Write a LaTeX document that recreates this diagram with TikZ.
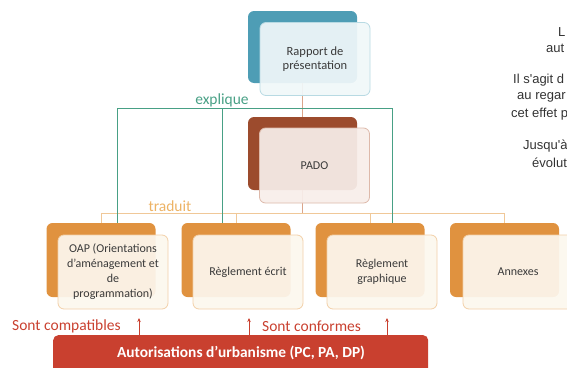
\documentclass[tikz,border=0pt]{standalone}
\usepackage{fontspec}
\setmainfont{Carlito}
\newfontfamily\arialfont{Liberation Sans}
\usetikzlibrary{arrows.meta}
\definecolor{tealback}{HTML}{4E9DB5}
\definecolor{tealfront}{HTML}{F0F7F9}
\definecolor{tealedge}{HTML}{B8DAE3}
\definecolor{brownback}{HTML}{9C4B2D}
\definecolor{brownfront}{HTML}{F7EEEA}
\definecolor{brownedge}{HTML}{DDB9AA}
\definecolor{orangeback}{HTML}{E0923F}
\definecolor{orangefront}{HTML}{FCF7EE}
\definecolor{orangeedge}{HTML}{F2D0A8}
\definecolor{greenline}{HTML}{48A085}
\definecolor{orangeline}{HTML}{F0C898}
\definecolor{orangetext}{HTML}{EDB365}
\definecolor{brownline}{HTML}{DBA58A}
\definecolor{redbar}{HTML}{C9402F}
\definecolor{boxtext}{HTML}{3A3A3A}
\tikzset{
  backbox/.style={rectangle, rounded corners=6pt, minimum width=109pt, minimum height=73pt, inner sep=0pt},
  frontbox/.style={rectangle, rounded corners=6pt, minimum width=110pt, minimum height=73pt, inner sep=2pt,
    fill opacity=0.93, text opacity=1, line width=0.8pt, align=center, text=boxtext, font=\fontsize{12}{15}\selectfont},
  redlabel/.style={text=redbar, font=\fontsize{15.5}{18}\selectfont, inner sep=0pt},
  redarrow/.style={draw=redbar, line width=0.8pt, -{Stealth[length=4pt,width=3.5pt]}},
  sidetext/.style={font=\arialfont\fontsize{13}{15}\selectfont, text=black!80, anchor=west, inner sep=0pt}
}
\begin{document}
\begin{tikzpicture}[x=1pt,y=-1pt]
\useasboundingbox (0,0) rectangle (567,367);
\clip (0,0) rectangle (567,367);
% back boxes
\node[backbox, fill=tealback, minimum height=72pt] (rapb) at (302.5,47) {};
\node[backbox, fill=brownback] (padob) at (302.5,153.5) {};
\node[backbox, fill=orangeback, minimum height=74pt] (oapb) at (101,260) {};
\node[backbox, fill=orangeback, minimum height=74pt] (regb) at (236,260) {};
\node[backbox, fill=orangeback, minimum height=74pt] (grab) at (370,260) {};
\node[backbox, fill=orangeback, minimum height=74pt] (annb) at (504.5,260) {};
% connectors
\coordinate (exL) at (117,108);
\coordinate (exM) at (222,108);
\coordinate (exR) at (392,108);
\coordinate (trL) at (101,213);
\coordinate (trR) at (504.5,213);
\draw[brownline, line width=0.8pt] (rapb.south) -- (padob.north);
\draw[brownline, line width=0.8pt] (padob.south) -- (padob.south |- trL);
\draw[orangeline, line width=0.8pt] (trL) -- (trR);
\draw[orangeline, line width=0.8pt] (trL) -- (oapb.north);
\draw[orangeline, line width=0.8pt] (regb.north |- trL) -- (regb.north);
\draw[orangeline, line width=0.8pt] (grab.north |- trL) -- (grab.north);
\draw[orangeline, line width=0.8pt] (trR) -- (annb.north);
\draw[greenline, line width=0.9pt] (exL |- oapb.north) -- (exL) -- (exR) -- (exR |- grab.north);
\draw[greenline, line width=0.9pt] (exM) -- (exM |- regb.north);
\node[text=greenline, font=\fontsize{15.5}{18}\selectfont, inner sep=0pt] (explique) at (222,100) {explique};
\node[text=orangetext, font=\fontsize{15.5}{18}\selectfont, inner sep=0pt] (traduit) at (170,206) {traduit};
% front boxes
\node[frontbox, fill=tealfront, draw=tealedge, font=\fontsize{12.5}{14.5}\selectfont] (rapf) at (315,59) {Rapport de\\présentation};
\node[frontbox, fill=brownfront, draw=brownedge, minimum height=75pt] (padof) at (314.5,165.5) {PADO};
\node[frontbox, fill=orangefront, draw=orangeedge, minimum height=74pt] (oapf) at (113,272) {OAP (Orientations\\d'aménagement et\\de\\programmation)};
\node[frontbox, fill=orangefront, draw=orangeedge, minimum height=74pt] (regf) at (248,272) {Règlement écrit};
\node[frontbox, fill=orangefront, draw=orangeedge, minimum height=74pt] (graf) at (382,272) {Règlement\\graphique};
\node[frontbox, fill=orangefront, draw=orangeedge, minimum height=74pt] (annf) at (518,272) {Annexes};
% bottom bar
\node[rectangle, rounded corners=5pt, fill=redbar, minimum width=375pt, minimum height=44pt, anchor=north west, inner sep=0pt] (bar) at (53,335) {};
\node[text=white, font=\bfseries\fontsize{15.4}{18}\selectfont, inner sep=0pt] (bartext) at (241,353) {Autorisations d'urbanisme (PC, PA, DP)};
\node[redlabel, anchor=west] (compat) at (12,326) {Sont compatibles};
\node[redlabel, anchor=west] (conf) at (262,326) {Sont conformes};
\coordinate (a1) at (139,318);
\coordinate (a2) at (249,318);
\coordinate (a3) at (387,318);
\draw[redarrow] (bar.north -| a1) -- (a1);
\draw[redarrow] (bar.north -| a2) -- (a2);
\draw[redarrow] (bar.north -| a3) -- (a3);
% cut-off side text
\node[sidetext] (s1) at (558,32) {L};
\node[sidetext] (s2) at (546,48) {aut};
\node[sidetext] (s3) at (513,80) {Il s'agit d};
\node[sidetext] (s4) at (517,97) {au regar};
\node[sidetext] (s5) at (511,114) {cet effet p};
\node[sidetext] (s6) at (523,146) {Jusqu'à};
\node[sidetext] (s7) at (532,163) {évolut};
\end{tikzpicture}
\end{document}
